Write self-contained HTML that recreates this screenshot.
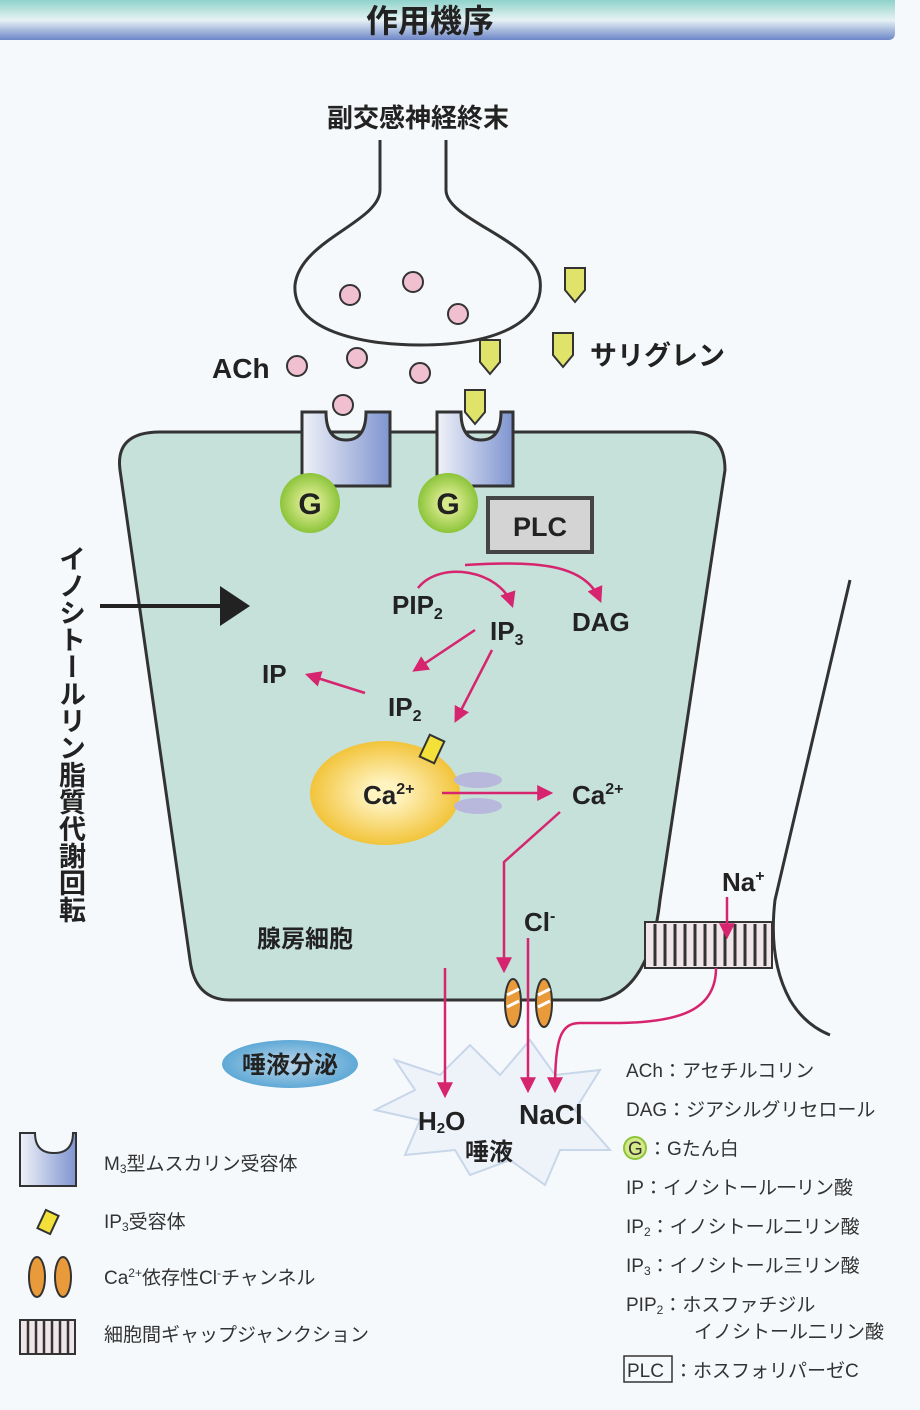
<!DOCTYPE html>
<html><head><meta charset="utf-8"><style>
body{margin:0;background:#f6f9fb;}
svg{display:block;font-family:"Liberation Sans","Noto Sans CJK JP",sans-serif;}
</style></head><body>
<svg width="920" height="1410" viewBox="0 0 920 1410" xmlns="http://www.w3.org/2000/svg">
<defs>
<linearGradient id="hd" x1="0" y1="0" x2="0" y2="1"><stop offset="0" stop-color="#8fd2cb"/><stop offset="0.5" stop-color="#e6f2f4"/><stop offset="1" stop-color="#6d86c8"/></linearGradient>
<linearGradient id="rc" x1="0" y1="0" x2="1" y2="0"><stop offset="0" stop-color="#f0f2f8"/><stop offset="1" stop-color="#7f95d0"/></linearGradient>
<radialGradient id="gg"><stop offset="0.3" stop-color="#d6e98a"/><stop offset="1" stop-color="#8cc43a"/></radialGradient>
<radialGradient id="er"><stop offset="0.2" stop-color="#fff3c0"/><stop offset="1" stop-color="#f2c43a"/></radialGradient>
<radialGradient id="ov" cx="0.5" cy="0.5"><stop offset="0" stop-color="#bcd6ea"/><stop offset="1" stop-color="#5fa9d6"/></radialGradient>
<marker id="ar2" viewBox="0 0 10 10" markerWidth="16" markerHeight="16" refX="8" refY="5" orient="auto" markerUnits="userSpaceOnUse"><path d="M0,0 L10,5 L0,10 Z" fill="#d6246e"/></marker>
</defs>
<path d="M0,0 H895 V33 Q895,40 888,40 H0 Z" fill="url(#hd)"/>
<text x="430" y="32" font-size="32" font-weight="bold" text-anchor="middle" fill="#222">作用機序</text>

<text x="418" y="127" font-size="26" font-weight="bold" text-anchor="middle" fill="#222">副交感神経終末</text>
<path d="M380,140 L380,190 C380,222 300,240 295,285 C292,330 360,345 420,345 C500,345 545,320 540,280 C535,240 446,220 446,190 L446,140" fill="#f6f9fb" stroke="#333" stroke-width="3"/>
<g fill="#f0bfd0" stroke="#333" stroke-width="2">
<circle cx="350" cy="295" r="10"/><circle cx="413" cy="282" r="10"/><circle cx="458" cy="314" r="10"/>
<circle cx="357" cy="358" r="10"/><circle cx="420" cy="373" r="10"/><circle cx="297" cy="366" r="10"/><circle cx="343" cy="405" r="10"/>
</g>
<text x="212" y="378" font-size="28" font-weight="bold" fill="#222">ACh</text>
<g fill="#dfe36a" stroke="#333" stroke-width="2">
<path d="M565,268 h20 v22 l-10,12 l-10,-12 Z"/>
<path d="M480,340 h20 v22 l-10,12 l-10,-12 Z"/>
<path d="M553,333 h20 v22 l-10,12 l-10,-12 Z"/>
<path d="M465,390 h20 v22 l-10,12 l-10,-12 Z"/>
</g>
<text x="590" y="365" font-size="27" font-weight="bold" fill="#222">サリグレン</text>

<path d="M850,580 L775,900 Q768,960 790,1000 Q805,1025 830,1035" fill="none" stroke="#333" stroke-width="3"/>
<path d="M160,432 H690 Q725,432 725,470 L660,900 Q650,990 600,1000 H230 Q195,1000 190,960 L120,470 Q115,432 160,432 Z" fill="#c6e0da" stroke="#333" stroke-width="3"/>
<rect x="645" y="922" width="127" height="46" fill="#f0e6ea" stroke="#333" stroke-width="2"/>
<g stroke="#333" stroke-width="3">
<line x1="655" y1="924" x2="655" y2="966"/><line x1="665" y1="924" x2="665" y2="966"/><line x1="675" y1="924" x2="675" y2="966"/><line x1="685" y1="924" x2="685" y2="966"/><line x1="695" y1="924" x2="695" y2="966"/><line x1="705" y1="924" x2="705" y2="966"/><line x1="715" y1="924" x2="715" y2="966"/><line x1="725" y1="924" x2="725" y2="966"/><line x1="735" y1="924" x2="735" y2="966"/><line x1="745" y1="924" x2="745" y2="966"/><line x1="755" y1="924" x2="755" y2="966"/><line x1="765" y1="924" x2="765" y2="966"/>
</g>
<path d="M302,412 h24 q0,28 20,28 q20,0 20,-28 h24 v74 h-88 Z" fill="url(#rc)" stroke="#333" stroke-width="3"/>
<path d="M437,412 h24 q0,28 20,28 q20,0 20,-28 h12 v74 h-76 Z" fill="url(#rc)" stroke="#333" stroke-width="3"/>
<circle cx="310" cy="503" r="30" fill="url(#gg)"/><text x="310" y="514" font-size="30" font-weight="bold" text-anchor="middle" fill="#222">G</text>
<circle cx="448" cy="503" r="30" fill="url(#gg)"/><text x="448" y="514" font-size="30" font-weight="bold" text-anchor="middle" fill="#222">G</text>
<rect x="488" y="498" width="104" height="54" fill="#d4d4d4" stroke="#444" stroke-width="4"/>
<text x="540" y="536" font-size="27" font-weight="bold" text-anchor="middle" fill="#222">PLC</text>

<text font-size="27" font-weight="bold" fill="#222" writing-mode="tb" x="70" y="545">イノシトールリン脂質代謝回転</text>
<line x1="100" y1="606" x2="225" y2="606" stroke="#222" stroke-width="4"/>
<path d="M220,586 L250,606 L220,626 Z" fill="#222"/>

<g font-size="26" font-weight="bold" fill="#222">
<text x="392" y="614">PIP<tspan font-size="16" dy="5">2</tspan></text>
<text x="490" y="640">IP<tspan font-size="16" dy="5">3</tspan></text>
<text x="572" y="631">DAG</text>
<text x="262" y="683">IP</text>
<text x="388" y="716">IP<tspan font-size="16" dy="5">2</tspan></text>
</g>
<g fill="none" stroke="#d6246e" stroke-width="2.5">
<path d="M418,588 C440,560 500,570 512,605" marker-end="url(#ar2)"/>
<path d="M465,565 C540,560 585,565 600,600" marker-end="url(#ar2)"/>
<path d="M475,630 L415,670" marker-end="url(#ar2)"/>
<path d="M492,650 L456,720" marker-end="url(#ar2)"/>
<path d="M365,693 L308,675" marker-end="url(#ar2)"/>
</g>
<ellipse cx="385" cy="793" rx="75" ry="52" fill="url(#er)"/>
<rect x="424" y="737" width="16" height="24" fill="#f3e13a" stroke="#333" stroke-width="2" transform="rotate(25 432 749)"/>
<ellipse cx="478" cy="780" rx="24" ry="8" fill="#b8b8dd"/>
<ellipse cx="478" cy="806" rx="24" ry="8" fill="#b8b8dd"/>
<text x="363" y="804" font-size="26" font-weight="bold" fill="#222">Ca<tspan font-size="16" dy="-10">2+</tspan></text>
<line x1="442" y1="793" x2="550" y2="793" stroke="#d6246e" stroke-width="2.5" marker-end="url(#ar2)"/>
<text x="572" y="804" font-size="26" font-weight="bold" fill="#222">Ca<tspan font-size="16" dy="-10">2+</tspan></text>
<path d="M560,812 L504,862 V970" fill="none" stroke="#d6246e" stroke-width="2.5" marker-end="url(#ar2)"/>
<text x="524" y="931" font-size="26" font-weight="bold" fill="#222">Cl<tspan font-size="16" dy="-10">-</tspan></text>
<text x="722" y="891" font-size="26" font-weight="bold" fill="#222">Na<tspan font-size="16" dy="-10">+</tspan></text>
<line x1="727" y1="897" x2="727" y2="936" stroke="#d6246e" stroke-width="2.5" marker-end="url(#ar2)"/>
<text x="257" y="947" font-size="24" font-weight="bold" fill="#222">腺房細胞</text>
<g stroke="#333" stroke-width="2">
<ellipse cx="513" cy="1003" rx="8" ry="24" fill="#e99a3a"/>
<ellipse cx="544" cy="1003" rx="8" ry="24" fill="#e99a3a"/>
</g>
<g stroke="#fff" stroke-width="3"><line x1="507" y1="995" x2="519" y2="989"/><line x1="507" y1="1007" x2="519" y2="1001"/><line x1="538" y1="995" x2="550" y2="989"/><line x1="538" y1="1007" x2="550" y2="1001"/></g>
<path d="M395,1060 L440,1075 L470,1045 L500,1075 L530,1040 L555,1075 L600,1070 L575,1110 L610,1150 L560,1150 L545,1185 L510,1160 L470,1175 L455,1150 L405,1155 L420,1120 L375,1110 L415,1090 Z" fill="#eef3fa" stroke="#c8d6ea" stroke-width="2"/>
<g fill="none" stroke="#d6246e" stroke-width="2.5">
<line x1="445" y1="968" x2="445" y2="1095" marker-end="url(#ar2)"/>
<line x1="528" y1="938" x2="528" y2="1090" marker-end="url(#ar2)"/>
<path d="M716,968 C716,1010 680,1022 620,1023 L580,1023 C560,1023 555,1040 555,1090" marker-end="url(#ar2)"/>
</g>
<ellipse cx="290" cy="1064" rx="68" ry="24" fill="url(#ov)"/>
<text x="290" y="1073" font-size="24" font-weight="bold" text-anchor="middle" fill="#222">唾液分泌</text>
<text x="418" y="1130" font-size="26" font-weight="bold" fill="#222">H<tspan font-size="15" dy="3">2</tspan><tspan dy="-3">O</tspan></text>
<text x="519" y="1124" font-size="28" font-weight="bold" fill="#222">NaCl</text>
<text x="465" y="1160" font-size="24" font-weight="bold" fill="#222">唾液</text>

<path d="M20,1133 h15 q0,20 19,20 q19,0 19,-20 h3 v53 h-56 Z" fill="url(#rc)" stroke="#333" stroke-width="2"/>
<text x="104" y="1170" font-size="19" fill="#333">M<tspan font-size="12" dy="3">3</tspan><tspan dy="-3">型ムスカリン受容体</tspan></text>
<rect x="41" y="1212" width="14" height="20" fill="#f3e13a" stroke="#333" stroke-width="2" transform="rotate(25 48 1222)"/>
<text x="104" y="1228" font-size="19" fill="#333">IP<tspan font-size="12" dy="3">3</tspan><tspan dy="-3">受容体</tspan></text>
<ellipse cx="37" cy="1277" rx="8" ry="20" fill="#e99a3a" stroke="#333" stroke-width="2"/>
<ellipse cx="63" cy="1277" rx="8" ry="20" fill="#e99a3a" stroke="#333" stroke-width="2"/>
<text x="104" y="1284" font-size="19" fill="#333">Ca<tspan font-size="12" dy="-7">2+</tspan><tspan dy="7">依存性Cl</tspan><tspan font-size="12" dy="-7">-</tspan><tspan dy="7">チャンネル</tspan></text>
<rect x="20" y="1320" width="55" height="34" fill="#f0e6ea" stroke="#333" stroke-width="2"/>
<g stroke="#333" stroke-width="2.5"><line x1="28" y1="1321" x2="28" y2="1353"/><line x1="36" y1="1321" x2="36" y2="1353"/><line x1="44" y1="1321" x2="44" y2="1353"/><line x1="52" y1="1321" x2="52" y2="1353"/><line x1="60" y1="1321" x2="60" y2="1353"/><line x1="68" y1="1321" x2="68" y2="1353"/></g>
<text x="104" y="1341" font-size="19" fill="#333">細胞間ギャップジャンクション</text>

<g font-size="19" fill="#333">
<text x="626" y="1077">ACh：アセチルコリン</text>
<text x="626" y="1116">DAG：ジアシルグリセロール</text>
<circle cx="635" cy="1148" r="11" fill="#d6e98a" stroke="#8cc43a" stroke-width="2"/>
<text x="628" y="1155">G</text><text x="648" y="1155">：Gたん白</text>
<text x="626" y="1194">IP：イノシトール一リン酸</text>
<text x="626" y="1233">IP<tspan font-size="12" dy="3">2</tspan><tspan dy="-3">：イノシトール二リン酸</tspan></text>
<text x="626" y="1272">IP<tspan font-size="12" dy="3">3</tspan><tspan dy="-3">：イノシトール三リン酸</tspan></text>
<text x="626" y="1311">PIP<tspan font-size="12" dy="3">2</tspan><tspan dy="-3">：ホスファチジル</tspan></text>
<text x="694" y="1338">イノシトール二リン酸</text>
<rect x="624" y="1356" width="48" height="26" fill="none" stroke="#333" stroke-width="1.5"/>
<text x="627" y="1377">PLC</text><text x="674" y="1377">：ホスフォリパーゼC</text>
</g>
</svg>
</body></html>
